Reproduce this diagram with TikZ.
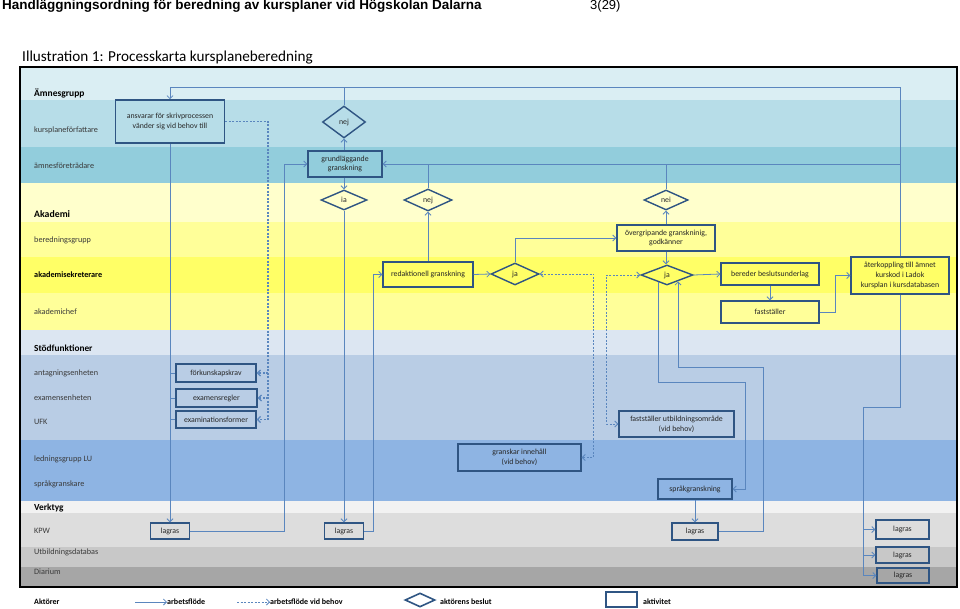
\documentclass[tikz,border=0pt]{standalone}
\usepackage{fontspec}
\setmainfont{Carlito}
\newfontfamily\arialf{Liberation Sans}
\usetikzlibrary{shapes.geometric,arrows.meta}
\definecolor{bandA}{HTML}{DAEEF3}
\definecolor{bandB}{HTML}{B7DDE8}
\definecolor{bandC}{HTML}{92CDDC}
\definecolor{bandD}{HTML}{FFFFCC}
\definecolor{bandE}{HTML}{FFFF99}
\definecolor{bandF}{HTML}{FFFF66}
\definecolor{bandG}{HTML}{DCE6F2}
\definecolor{bandH}{HTML}{B9CDE5}
\definecolor{bandI}{HTML}{8EB4E3}
\definecolor{bandJ}{HTML}{F2F2F2}
\definecolor{bandK}{HTML}{DDDDDD}
\definecolor{bandL}{HTML}{C8C8C8}
\definecolor{bandM}{HTML}{A6A6A6}
\definecolor{boxc}{HTML}{2F5583}
\definecolor{linec}{HTML}{5A86BE}
\definecolor{txt}{HTML}{262626}
\definecolor{lbl}{HTML}{3A3A3A}
\begin{document}
\begin{tikzpicture}[x=1pt,y=-1pt,
  sz/.style 2 args={minimum width=#1pt,minimum height=#2pt},
  actbox/.style={draw=boxc,line width=1.4pt,inner sep=0pt,align=center,
    font=\fontsize{7.8}{9.8}\selectfont,text=txt},
  dia/.style={diamond,draw=boxc,line width=1.4pt,inner sep=0pt,
    font=\fontsize{7.8}{9.8}\selectfont,text=txt},
  flow/.style={draw=linec,line width=0.8pt,-{Straight Barb[length=3pt,width=6pt]}},
  plain/.style={draw=linec,line width=0.8pt},
  dflow/.style={flow,dash pattern=on 2pt off 1.5pt},
  lane/.style={anchor=west,font=\fontsize{8.2}{9}\selectfont,text=lbl,inner sep=0pt},
  head/.style={anchor=west,font=\fontsize{9.5}{11}\selectfont\bfseries,text=black,inner sep=0pt},
  legt/.style={anchor=west,font=\fontsize{8}{9}\selectfont\bfseries,text=black,inner sep=0pt}]
\useasboundingbox (0,0) rectangle (960,609);
\fill[white] (0,0) rectangle (960,609);
% titles
\node[anchor=west,inner sep=0pt,font=\arialf\bfseries\fontsize{13.5}{15}\selectfont] (title) at (2,6) {Handläggningsordning för beredning av kursplaner vid Högskolan Dalarna};
\node[anchor=west,inner sep=0pt,font=\arialf\fontsize{13}{14}\selectfont] (page) at (590,6) {3(29)};
\node[anchor=west,inner sep=0pt,font=\fontsize{15.2}{17}\selectfont] (ill) at (22,58) {Illustration 1: Processkarta kursplaneberedning};
% bands
\fill[bandA] (20,67) rectangle (957,100);
\fill[bandB] (20,100) rectangle (957,147);
\fill[bandC] (20,147) rectangle (957,183);
\fill[bandD] (20,183) rectangle (957,222);
\fill[bandE] (20,222) rectangle (957,257);
\fill[bandF] (20,257) rectangle (957,293);
\fill[bandE] (20,293) rectangle (957,330);
\fill[bandG] (20,330) rectangle (957,355);
\fill[bandH] (20,355) rectangle (957,440);
\fill[bandI] (20,440) rectangle (957,501);
\fill[bandJ] (20,501) rectangle (957,513);
\fill[bandK] (20,513) rectangle (957,547);
\fill[bandL] (20,547) rectangle (957,567);
\fill[bandM] (20,567) rectangle (957,587);
\draw[black,line width=1.5pt] (20,67) rectangle (957,587);
% lane labels
\node[head] (hA) at (34,93) {Ämnesgrupp};
\node[lane] (lB) at (34,130) {kursplaneförfattare};
\node[lane] (lC) at (34,166) {ämnesföreträdare};
\node[head,font=\fontsize{9.8}{12}\selectfont\bfseries] (hD) at (34,214) {Akademi};
\node[lane] (lE) at (34,240) {beredningsgrupp};
\node[lane,font=\fontsize{8.2}{9}\selectfont\bfseries,text=black] (lF) at (34,275) {akademisekreterare};
\node[lane] (lG) at (34,312) {akademichef};
\node[head,font=\fontsize{9.3}{11}\selectfont\bfseries] (hG) at (34,348) {Stödfunktioner};
\node[lane] (lH1) at (34,373) {antagningsenheten};
\node[lane] (lH2) at (34,398) {examensenheten};
\node[lane] (lH3) at (34,422) {UFK};
\node[lane] (lI1) at (34,459) {ledningsgrupp LU};
\node[lane] (lI2) at (34,484) {språkgranskare};
\node[head,font=\fontsize{9.3}{11}\selectfont\bfseries] (hJ) at (34,508) {Verktyg};
\node[lane] (lK) at (34,531) {KPW};
\node[lane] (lL) at (34,552) {Utbildningsdatabas};
\node[lane] (lM) at (34,572) {Diarium};
% activity boxes
\node[actbox,sz={109}{43},line width=1.7pt] (ansv) at (170,121.5) {ansvarar för skrivprocessen\\vänder sig vid behov till};
\node[actbox,sz={74}{26}] (grund) at (345,164) {grundläggande\\granskning};
\node[actbox,sz={98}{26}] (overg) at (666,238) {övergripande granskninig,\\godkänner};
\node[actbox,sz={90}{25}] (redak) at (428,274.5) {redaktionell granskning};
\node[actbox,sz={98}{22}] (bered) at (770,274) {bereder beslutsunderlag};
\node[actbox,sz={98}{37}] (ater) at (900,275.5) {återkoppling till ämnet\\kurskod i Ladok\\kursplan i kursdatabasen};
\node[actbox,sz={98}{22}] (fast) at (770,312) {fastställer};
\node[actbox,sz={80}{18}] (fork) at (216,373) {förkunskapskrav};
\node[actbox,sz={81}{18}] (exreg) at (216.5,398) {examensregler};
\node[actbox,sz={80}{17}] (exform) at (216,419.5) {examinationsformer};
\node[actbox,sz={115}{26}] (utbomr) at (676.5,424) {fastställer utbildningsområde\\(vid behov)};
\node[actbox,sz={123}{27}] (gransk) at (519.5,457.5) {granskar innehåll\\(vid behov)};
\node[actbox,sz={74}{20}] (sprak) at (695,489) {språkgranskning};
\node[actbox,sz={39}{16}] (lag1) at (170,531) {lagras};
\node[actbox,sz={39}{16}] (lag2) at (344,531) {lagras};
\node[actbox,sz={46}{17}] (lag3) at (695,531.5) {lagras};
\node[actbox,sz={53}{19}] (lag4) at (902.5,529.5) {lagras};
\node[actbox,sz={53}{16}] (lag5) at (902.5,555) {lagras};
\node[actbox,sz={52}{15}] (lag6) at (903,575.5) {lagras};
% decisions
\node[dia,sz={43}{32}] (nej1) at (344,122) {nej};
\node[dia,sz={46}{20}] (ia) at (344,200) {ia};
\node[dia,sz={48}{22}] (nej2) at (428,200) {nej};
\node[dia,sz={44}{20}] (nei) at (666,200) {nei};
\node[dia,sz={48}{22}] (ja1) at (515,274) {ja};
\node[dia,sz={52}{20}] (ja2) at (667,275) {ja};
% waypoints
\coordinate (tl) at (170,87);
\coordinate (tr) at (900,87);
\coordinate (w1) at (745,382);
\coordinate (w2) at (763,367);
\coordinate (w3) at (863,407);
\coordinate (w4) at (268,121.5);
% connectors
\draw[flow] (ater.north) -- (tr) -- (tl) -- (ansv.north);
\draw[plain] (nej1.north) -- (nej1.north |- tl);
\draw[flow] (grund.north -| nej1.south) -- (nej1.south);
\draw[flow] (grund.south -| ia.north) -- (ia.north);
\draw[flow] (ia.south) -- (lag2.north);
\draw[flow] (ansv.south) -- (lag1.north);
\draw[flow] (lag1.east) -- ++(94,0) |- (grund.west);
\draw[flow] (lag2.east) -- ++(9,0) |- (redak.west);
\draw[flow] (redak.east) -- (ja1.west);
\draw[flow] (ja1.north) |- (overg.west);
\draw[flow] (redak.north) -- (nej2.south);
\draw[flow] (ater.north |- grund.east) -- (grund.east);
\draw[plain] (nej2.north) -- (nej2.north |- grund.east);
\draw[plain] (nei.north) -- (nei.north |- grund.east);
\draw[flow] (overg.north) -- (nei.south);
\draw[flow] (overg.south) -- (overg.south |- ja2.north);
\draw[flow] (ja2.east) -- (bered.west);
\draw[flow] (bered.south) -- (fast.north);
\draw[flow] (fast.east) -- ++(16,0) |- (ater.west);
\draw[dflow,{Straight Barb[length=3pt,width=6pt]}-{Straight Barb[length=3pt,width=6pt]}] (ja1.east) -- ++(54,0) |- (gransk.east);
\draw[dflow,{Straight Barb[length=3pt,width=6pt]}-{Straight Barb[length=3pt,width=6pt]}] (ja2.west) -- ++(-34,0) |- (utbomr.west);
\draw[flow] ([xshift=-9pt,yshift=3.5pt]ja2.south) |- (w1) |- (sprak.east);
\draw[flow] (lag3.east) -| (w2) -| ([xshift=11pt,yshift=4.2pt]ja2.south);
\draw[flow] (sprak.south) -- (lag3.north);
\draw[flow] (ater.south) |- (w3) -- (w3 |- lag6.west) -- (lag6.west);
\draw[flow] (w3 |- lag4.west) -- (lag4.west);
\draw[flow] (w3 |- lag5.west) -- (lag5.west);
\draw[dflow,line width=1.2pt] (ansv.east) -- (w4) |- (exform.east);
\draw[dflow,line width=1.2pt] (w4 |- fork.east) -- (fork.east);
\draw[dflow,line width=1.2pt] (w4 |- exreg.east) -- (exreg.east);
\draw[plain] (ansv.south |- fork.west) -- (fork.west);
\draw[plain] (ansv.south |- exreg.west) -- (exreg.west);
\draw[plain] (ansv.south |- exform.west) -- (exform.west);
% legend
\node[legt] (lgA) at (34,602) {Aktörer};
\node[legt] (lg1) at (167,602) {arbetsflöde};
\draw[flow] ([xshift=-32pt]lg1.west) -- (lg1.west);
\node[legt] (lg2) at (270,602) {arbetsflöde vid behov};
\draw[dflow] ([xshift=-33pt]lg2.west) -- (lg2.west);
\node[dia,sz={30}{14},line width=1.6pt] (lgd) at (420,600) {};
\node[legt] (lg3) at (440,602) {aktörens beslut};
\node[actbox,sz={31}{15}] (lgb) at (621.5,599.5) {};
\node[legt] (lg4) at (643,602) {aktivitet};
\end{tikzpicture}
\end{document}
